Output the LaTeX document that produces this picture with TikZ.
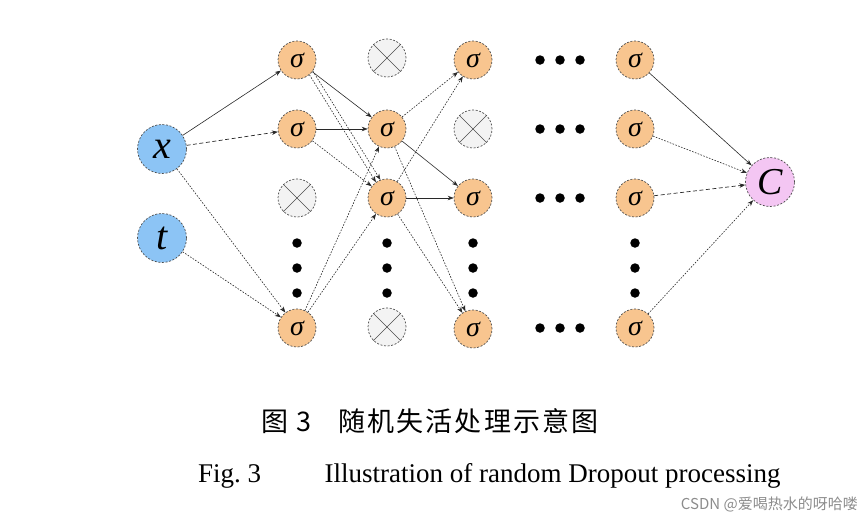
\documentclass[tikz,border=0pt]{standalone}
\usepackage{fontspec}
\setmainfont{Liberation Serif}
\newfontfamily\cjk{Noto Sans CJK SC}
\newfontfamily\cjkwide[LetterSpace=8]{Noto Sans CJK SC}
\usetikzlibrary{arrows.meta}
\definecolor{sigfill}{RGB}{248,197,143}
\definecolor{inpfill}{RGB}{140,196,245}
\definecolor{outfill}{RGB}{244,198,243}
\definecolor{dropfill}{RGB}{243,243,243}
\definecolor{edgecol}{RGB}{40,40,40}
\tikzset{
  unit/.style={circle, draw=black!70, dash pattern=on 2pt off 1.6pt, line width=0.7pt, inner sep=0pt},
  sig/.style={unit, fill=sigfill, minimum size=38pt, font=\itshape\fontsize{28}{28}\selectfont},
  inp/.style={unit, fill=inpfill, minimum size=49pt, font=\itshape\fontsize{40}{40}\selectfont},
  outp/.style={unit, fill=outfill, minimum size=49pt, font=\itshape\fontsize{38}{38}\selectfont},
  drop/.style={unit, fill=dropfill, minimum size=38pt},
  bigdot/.style={circle, fill=black, inner sep=0pt, minimum size=9.5pt},
  tip/.style={-{Stealth[length=6pt,width=4.5pt]}},
  solidarrow/.style={tip, draw=edgecol, line width=0.6pt},
  dottedarrow/.style={tip, draw=edgecol, line width=0.6pt, dash pattern=on 1.6pt off 1.4pt},
  dashedarrow/.style={tip, draw=edgecol, line width=0.7pt, dash pattern=on 4pt off 2.5pt},
  crossline/.style={draw=black!70, line width=0.6pt}
}
\newcommand{\dropcross}[1]{\draw[crossline] (#1.45) -- (#1.225); \draw[crossline] (#1.135) -- (#1.315);}
\begin{document}
\begin{tikzpicture}[x=1pt,y=-1pt]
\useasboundingbox (0,0) rectangle (862,520);
% inputs
\node[inp] (x) at (162,149) {x};
\node[inp] (t) at (162,238) {t};
% column 1
\node[sig] (s11) at (297,60) {σ};
\node[sig] (s12) at (297,129) {σ};
\node[drop] (d13) at (297,198) {}; \dropcross{d13}
\node[bigdot] (v1a) at (297,243) {};
\node[bigdot] (v1b) at (297,268) {};
\node[bigdot] (v1c) at (297,293) {};
\node[sig] (s14) at (297,328) {σ};
% column 2
\node[drop] (d21) at (387,58) {}; \dropcross{d21}
\node[sig] (s22) at (387,129) {σ};
\node[sig] (s23) at (387,198) {σ};
\node[bigdot] (v2a) at (387,243) {};
\node[bigdot] (v2b) at (387,268) {};
\node[bigdot] (v2c) at (387,293) {};
\node[drop] (d24) at (387,327) {}; \dropcross{d24}
% column 3
\node[sig] (s31) at (473,60) {σ};
\node[drop] (d32) at (473,129) {}; \dropcross{d32}
\node[sig] (s33) at (473,198) {σ};
\node[bigdot] (v3a) at (473,243) {};
\node[bigdot] (v3b) at (473,268) {};
\node[bigdot] (v3c) at (473,293) {};
\node[sig] (s34) at (473,329) {σ};
% horizontal dots
\foreach \r/\yy in {1/60,2/129,3/198,4/328}{
  \node[bigdot] (h\r a) at (540,\yy) {};
  \node[bigdot] (h\r b) at (560,\yy) {};
  \node[bigdot] (h\r c) at (580,\yy) {};
}
% column 4
\node[sig] (s41) at (635,60) {σ};
\node[sig] (s42) at (635,129) {σ};
\node[sig] (s43) at (635,198) {σ};
\node[bigdot] (v4a) at (635,243) {};
\node[bigdot] (v4b) at (635,268) {};
\node[bigdot] (v4c) at (635,293) {};
\node[sig] (s44) at (635,328) {σ};
% output
\node[outp] (C) at (770,182) {C};
% edges input -> col1
\draw[solidarrow] (x) -- (s11);
\draw[dashedarrow] (x) -- (s12);
\draw[dottedarrow] (x) -- (s14);
\draw[dottedarrow] (t) -- (s14);
% col1 -> col2
\draw[solidarrow] (s11) -- (s22);
\draw[dottedarrow] (s11.-35) -- (s23.110);
\draw[dottedarrow] (s11.-50) -- (s23.125);
\draw[solidarrow] (s12) -- (s22);
\draw[dottedarrow] (s12) -- (s23);
\draw[dottedarrow] (s14) -- (s22);
\draw[dottedarrow] (s14) -- (s23);
% col2 -> col3
\draw[dottedarrow] (s22) -- (s31);
\draw[solidarrow] (s22) -- (s33);
\draw[dottedarrow] (s22) -- (s34);
\draw[dottedarrow] (s23) -- (s31);
\draw[solidarrow] (s23) -- (s33);
\draw[dottedarrow] (s23) -- (s34);
% col4 -> output
\draw[solidarrow] (s41) -- (C);
\draw[dottedarrow] (s42) -- (C);
\draw[dashedarrow] (s43) -- (C);
\draw[dottedarrow] (s44) -- (C);
% captions
\node[anchor=base west, inner sep=0pt, font=\cjkwide\fontsize{27}{27}\selectfont] (capzh) at (261,431) {图\hspace{0.3em}3\hspace{1.0em}随机失活处理示意图};
\node[anchor=base west, inner sep=0pt, font=\fontsize{27}{27}\selectfont] (capen) at (198,482) {Fig.\ 3\hspace{2.35em}Illustration of random Dropout processing};
\node[anchor=base east, inner sep=0pt, text=black!45, font=\cjk\fontsize{15}{15}\selectfont] (wm) at (858,509) {CSDN @爱喝热水的呀哈喽};
\end{tikzpicture}
\end{document}
